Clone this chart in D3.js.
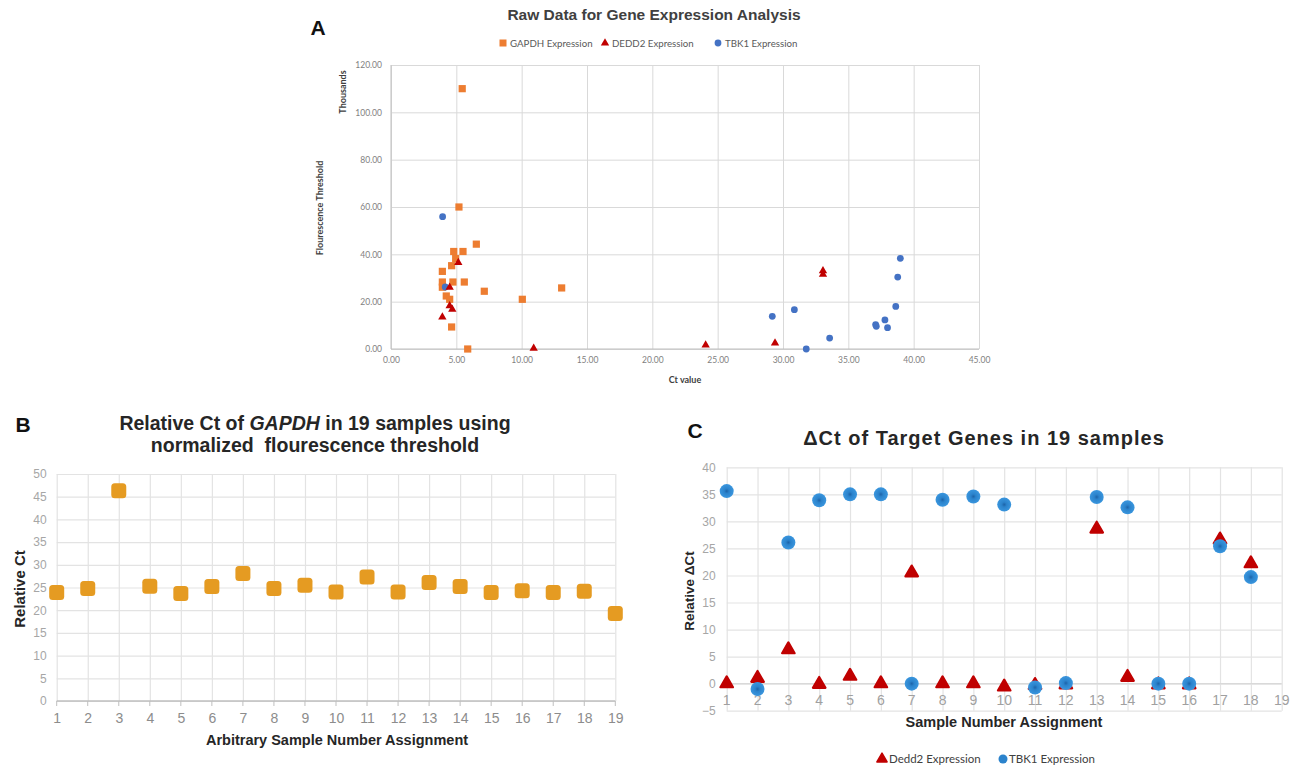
<!DOCTYPE html>
<html><head><meta charset="utf-8">
<script src="https://cdn.jsdelivr.net/npm/d3@7"></script>
<style>body{margin:0;background:#fff} svg{display:block}</style>
</head><body>
<svg id="c" width="1296" height="768"></svg>
<script>
// ---------- Panel A data ----------
const gapdhCt = [5.45, 5.2, 6.53, 4.8, 5.51, 4.95, 4.64, 3.93, 3.93, 3.93, 4.74, 5.61, 7.14, 13.06, 4.23, 4.49, 10.05, 4.64, 5.87];
const gapdhFl = [110.0, 60.0, 44.3, 41.2, 41.2, 38.2, 35.2, 32.8, 28.3, 26.1, 28.3, 28.3, 24.4, 25.8, 22.4, 21.0, 21.0, 9.3, 0.0];
const dedd2Ct = [5.15, 4.49, 4.49, 4.69, 3.93, 10.92, 24.08, 29.39, 33.06, 33.06];
const dedd2Fl = [36.5, 26.1, 18.2, 16.8, 13.5, 0.3, 1.7, 2.5, 33.0, 31.5];
const tbk1Ct = [3.95, 4.15, 29.18, 30.87, 31.78, 33.57, 37.09, 37.14, 37.8, 38.0, 38.63, 38.78, 38.98];
const tbk1Fl = [55.9, 26.2, 13.8, 16.6, 0.0, 4.6, 10.3, 9.6, 12.3, 9.0, 18.0, 30.4, 38.3];
const aXTicks = [0, 5, 10, 15, 20, 25, 30, 35, 40, 45];
const aYTicks = [0, 20, 40, 60, 80, 100, 120];
const aLegend = ["GAPDH Expression", "DEDD2 Expression", "TBK1 Expression"];

// ---------- Panel B data ----------
const samplesB = [1,2,3,4,5,6,7,8,9,10,11,12,13,14,15,16,17,18,19];
const relCt = [23.9, 24.8, 46.3, 25.3, 23.7, 25.2, 28.1, 24.8, 25.5, 24.0, 27.3, 24.0, 26.1, 25.2, 23.9, 24.3, 23.9, 24.2, 19.3];
const bYTicks = [0,5,10,15,20,25,30,35,40,45,50];

// ---------- Panel C data ----------
const samplesC = [1,2,3,4,5,6,7,8,9,10,11,12,13,14,15,16,17,18];
const dedd2D = [0, 1.0, 6.3, -0.1, 1.4, 0, 20.5, 0, 0, -0.6, -0.3, -0.2, 28.6, 1.2, -0.2, -0.2, 26.6, 22.2];
const tbk1D = [35.6, -1.0, 26.1, 33.9, 35.0, 35.0, 0, 34.0, 34.6, 33.1, -0.7, 0.1, 34.5, 32.6, 0, 0, 25.4, 19.7];
const cXTicks = [1,2,3,4,5,6,7,8,9,10,11,12,13,14,15,16,17,18,19];
const cYTicks = [-5,0,5,10,15,20,25,30,35,40];
const cLegend = ["Dedd2 Expression", "TBK1 Expression"];

const svg = d3.select("#c");
const ARIAL = "'Liberation Sans', Arial, sans-serif";
const CAL = "Lato, 'Liberation Sans', sans-serif";

const defs = svg.append("defs");
const rg = defs.append("radialGradient").attr("id","blueG");
rg.append("stop").attr("offset","0%").attr("stop-color","#1d63a8");
rg.append("stop").attr("offset","35%").attr("stop-color","#2b83cc");
rg.append("stop").attr("offset","100%").attr("stop-color","#3a96de");

// ================= Panel A =================
(function(){
  const x = d3.scaleLinear().domain([0,45]).range([391, 979]);
  const y = d3.scaleLinear().domain([0,120]).range([349, 65]);
  const g = svg.append("g");
  g.append("g").attr("transform","translate(0,349)")
    .call(d3.axisBottom(x).tickValues(aXTicks).tickSize(-284).tickFormat(d3.format(".2f")).tickPadding(8))
    .call(s=>{s.select(".domain").remove();
      s.selectAll("line").attr("stroke","#d9d9d9");
      s.selectAll("text").attr("fill","#7f7f7f").style("font-family",CAL).style("font-size","8.5px");});
  g.append("g").attr("transform","translate(391,0)")
    .call(d3.axisLeft(y).tickValues(aYTicks).tickSize(-588).tickFormat(d3.format(".2f")).tickPadding(9))
    .call(s=>{s.select(".domain").remove();
      s.selectAll("line").attr("stroke","#d9d9d9");
      s.selectAll("text").attr("fill","#7f7f7f").style("font-family",CAL).style("font-size","8.5px");});
  g.append("line").attr("x1",391).attr("x2",979).attr("y1",349).attr("y2",349).attr("stroke","#bfbfbf");
  g.append("line").attr("x1",391).attr("x2",391).attr("y1",65).attr("y2",349).attr("stroke","#bfbfbf");

  g.append("g").selectAll("rect").data(gapdhCt).join("rect")
    .attr("x",(d,i)=>x(d)-3.6).attr("y",(d,i)=>y(gapdhFl[i])-3.6)
    .attr("width",7.2).attr("height",7.2).attr("fill","#ED7D31");
  g.append("g").selectAll("circle").data(tbk1Ct).join("circle")
    .attr("cx",d=>x(d)).attr("cy",(d,i)=>y(tbk1Fl[i])).attr("r",3.4).attr("fill","#4472C4");
  const tri = d3.symbol().type(d3.symbolTriangle).size(30);
  g.append("g").selectAll("path").data(dedd2Ct).join("path")
    .attr("d",tri).attr("transform",(d,i)=>`translate(${x(d)},${y(dedd2Fl[i])})`)
    .attr("fill","#C00000");

  svg.append("text").attr("x",318).attr("y",35).attr("text-anchor","middle")
    .style("font-family",ARIAL).style("font-weight","bold").style("font-size","21px").attr("fill","#111").text("A");
  svg.append("text").attr("x",654).attr("y",20).attr("text-anchor","middle")
    .style("font-family",ARIAL).style("font-weight","bold").style("font-size","15.5px").attr("fill","#404040")
    .text("Raw Data for Gene Expression Analysis");
  const lg = svg.append("g").style("font-family",CAL).style("font-size","9.7px").attr("fill","#595959");
  const lx = [503, 605, 718];
  lg.append("rect").attr("x",lx[0]-3.5).attr("y",43-3.5).attr("width",7).attr("height",7).attr("fill","#ED7D31");
  lg.append("path").attr("d",tri).attr("transform",`translate(${lx[1]},${43})`).attr("fill","#C00000");
  lg.append("circle").attr("cx",lx[2]).attr("cy",43).attr("r",3.4).attr("fill","#4472C4");
  aLegend.forEach((t,i)=>lg.append("text").attr("x",lx[i]+7).attr("y",46.5).text(t));
  svg.append("text").attr("x",685).attr("y",383).attr("text-anchor","middle")
    .style("font-family",CAL).style("font-weight","bold").style("font-size","9px").attr("fill","#404040").text("Ct value");
  svg.append("text").attr("transform","translate(323,208) rotate(-90)").attr("text-anchor","middle")
    .style("font-family",CAL).style("font-weight","bold").style("font-size","9px").attr("fill","#404040").text("Flourescence Threshold");
  svg.append("text").attr("transform","translate(346,92) rotate(-90)").attr("text-anchor","middle")
    .style("font-family",CAL).style("font-weight","bold").style("font-size","9px").attr("fill","#404040").text("Thousands");
})();

// ================= Panel B =================
(function(){
  const x = d3.scaleLinear().domain([1,19]).range([56.7, 615.3]);
  const y = d3.scaleLinear().domain([0,50]).range([701, 474]);
  const g = svg.append("g");
  g.append("g").attr("transform","translate(56.7,0)")
    .call(d3.axisLeft(y).tickValues(bYTicks).tickSize(-558.6).tickPadding(10))
    .call(s=>{s.select(".domain").remove();
      s.selectAll("line").attr("stroke","#e3e3e3").attr("stroke-width",1.2);
      s.selectAll("text").attr("fill","#a6a6a6").style("font-family",ARIAL).style("font-size","12px");});
  g.append("g").attr("transform","translate(0,701)")
    .call(d3.axisBottom(x).tickValues(samplesB).tickSize(-227).tickPadding(12).tickFormat(d3.format("d")))
    .call(s=>{s.select(".domain").remove();
      s.selectAll("line").attr("stroke","#e3e3e3").attr("stroke-width",1.2);
      s.selectAll("text").attr("fill","#8c8c8c").style("font-family",ARIAL).style("font-size","14px");});
  g.append("line").attr("x1",56.7).attr("x2",615.3).attr("y1",701).attr("y2",701).attr("stroke","#bfbfbf").attr("stroke-width",1.3);
  g.append("g").selectAll("line").data(samplesB).join("line")
    .attr("x1",d=>x(d)).attr("x2",d=>x(d)).attr("y1",701).attr("y2",706).attr("stroke","#bfbfbf");

  g.append("g").selectAll("rect").data(relCt).join("rect")
    .attr("x",(d,i)=>x(samplesB[i])-7.5).attr("y",d=>y(d)-7.5)
    .attr("width",15).attr("height",15).attr("rx",3.5).attr("fill","#E59B22");

  svg.append("text").attr("x",23).attr("y",432).attr("text-anchor","middle")
    .style("font-family",ARIAL).style("font-weight","bold").style("font-size","21px").attr("fill","#111").text("B");
  const t = svg.append("text").attr("text-anchor","middle").style("font-family",ARIAL)
    .style("font-weight","bold").style("font-size","19.5px").attr("fill","#262626");
  const l1 = t.append("tspan").attr("x",315).attr("y",430);
  l1.append("tspan").text("Relative Ct of ");
  l1.append("tspan").style("font-style","italic").text("GAPDH");
  l1.append("tspan").text(" in 19 samples using");
  t.append("tspan").attr("x",315).attr("y",452).attr("xml:space","preserve").text("normalized  flourescence threshold");
  svg.append("text").attr("transform","translate(25,589) rotate(-90)").attr("text-anchor","middle")
    .style("font-family",ARIAL).style("font-weight","bold").style("font-size","15px").attr("fill","#262626").text("Relative Ct");
  svg.append("text").attr("x",337).attr("y",745).attr("text-anchor","middle")
    .style("font-family",ARIAL).style("font-weight","bold").style("font-size","14.5px").attr("fill","#262626").text("Arbitrary Sample Number Assignment");
})();

// ================= Panel C =================
(function(){
  const x = d3.scaleLinear().domain([1,19]).range([726.7, 1281.7]);
  const y = d3.scaleLinear().domain([-5,40]).range([710.7, 467.3]);
  const g = svg.append("g");
  g.append("g").attr("transform","translate(726.7,0)")
    .call(d3.axisLeft(y).tickValues(cYTicks).tickSize(-555).tickPadding(11))
    .call(s=>{s.select(".domain").remove();
      s.selectAll("line").attr("stroke","#e3e3e3").attr("stroke-width",1.2);
      s.selectAll("text").attr("fill","#a6a6a6").style("font-family",ARIAL).style("font-size","12px");});
  g.append("g").attr("transform","translate(0,710.7)")
    .call(d3.axisBottom(x).tickValues(cXTicks).tickSize(-243.4).tickFormat(d3.format("d")))
    .call(s=>{s.select(".domain").remove();
      s.selectAll("line").attr("stroke","#e3e3e3").attr("stroke-width",1.2);
      s.selectAll("text").remove();});
  g.append("g").selectAll("text").data(cXTicks).join("text")
    .attr("x",d=>x(d)).attr("y",y(0)+21).attr("text-anchor","middle")
    .attr("fill","#a0a0a0").style("font-family",ARIAL).style("font-size","14px").text(d=>d);
  g.append("line").attr("x1",726.7).attr("x2",1281.7).attr("y1",y(0)).attr("y2",y(0)).attr("stroke","#d9d9d9").attr("stroke-width",1.3);

  const tri = d3.symbol().type(d3.symbolTriangle).size(68);
  g.append("g").selectAll("path").data(dedd2D).join("path")
    .attr("d",tri).attr("transform",(d,i)=>`translate(${x(samplesC[i])},${y(d)})`)
    .attr("fill","#C00000").attr("stroke","#C00000").attr("stroke-width",2.2).attr("stroke-linejoin","round");
  g.append("g").selectAll("circle").data(tbk1D).join("circle")
    .attr("cx",(d,i)=>x(samplesC[i])).attr("cy",d=>y(d)).attr("r",7).attr("fill","url(#blueG)");

  svg.append("text").attr("x",695).attr("y",438).attr("text-anchor","middle")
    .style("font-family",ARIAL).style("font-weight","bold").style("font-size","21px").attr("fill","#111").text("C");
  svg.append("text").attr("x",984).attr("y",445).attr("text-anchor","middle")
    .style("font-family",ARIAL).style("font-weight","bold").style("font-size","20px").style("letter-spacing","1px")
    .attr("fill","#262626").text("ΔCt of Target Genes in 19 samples");
  svg.append("text").attr("transform","translate(694,591) rotate(-90)").attr("text-anchor","middle")
    .style("font-family",ARIAL).style("font-weight","bold").style("font-size","13.5px").attr("fill","#262626").text("Relative ΔCt");
  svg.append("text").attr("x",1004).attr("y",727).attr("text-anchor","middle")
    .style("font-family",ARIAL).style("font-weight","bold").style("font-size","14.5px").attr("fill","#262626").text("Sample Number Assignment");

  const lg = svg.append("g").style("font-family",CAL).style("font-size","11.5px").attr("fill","#404040");
  const ltri = d3.symbol().type(d3.symbolTriangle).size(45);
  lg.append("path").attr("d",ltri).attr("transform","translate(882,759)").attr("fill","#C00000")
    .attr("stroke","#C00000").attr("stroke-width",1.5).attr("stroke-linejoin","round");
  lg.append("circle").attr("cx",1003).attr("cy",759).attr("r",4.5).attr("fill","#2b83cc");
  lg.append("text").attr("x",889).attr("y",763).text(cLegend[0]);
  lg.append("text").attr("x",1009).attr("y",763).text(cLegend[1]);
})();
</script>
</body></html>
